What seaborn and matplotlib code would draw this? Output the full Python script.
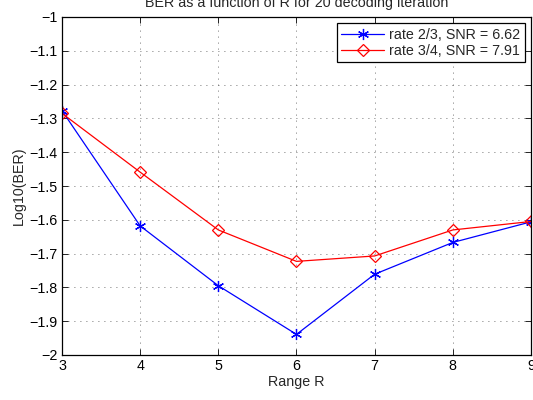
import numpy as np
import pandas as pd
import matplotlib
matplotlib.use("Agg")
import matplotlib.pyplot as plt
import seaborn as sns

# values
range_r = [3, 4, 5, 6, 7, 8, 9]
ber_23 = [-1.277, -1.618, -1.795, -1.939, -1.761, -1.667, -1.606]
ber_34 = [-1.285, -1.459, -1.630, -1.723, -1.707, -1.630, -1.605]
labels = ["rate 2/3, SNR = 6.62", "rate 3/4, SNR = 7.91"]

df_23 = pd.DataFrame({"R": range_r, "BER": ber_23})
df_34 = pd.DataFrame({"R": range_r, "BER": ber_34})

sns.set_style("ticks")
plt.rcParams['font.family'] = ['Liberation Sans', 'DejaVu Sans']
plt.rcParams['font.size'] = 10.3
plt.rcParams['xtick.direction'] = 'in'
plt.rcParams['ytick.direction'] = 'in'

fs = 10.3

fig = plt.figure(figsize=(5.33, 4), dpi=100)
ax = fig.add_axes([0.1163, 0.1125, 0.8799, 0.845])

# matlab style asterisk marker
sns.lineplot(data=df_23, x="R", y="BER", ax=ax, color="blue", lw=0.9,
             marker=(6, 2, 0), markersize=8, markeredgewidth=0.9,
             markeredgecolor="blue", label=labels[0])
sns.lineplot(data=df_34, x="R", y="BER", ax=ax, color="red", lw=0.9,
             marker="D", markersize=6.5, markeredgewidth=0.9,
             markerfacecolor="none", markeredgecolor="red", label=labels[1])

ax.set_xlim(3, 9)
ax.set_ylim(-2, -1)
ax.set_xticks(range(3, 10))
ax.set_yticks(np.round(np.arange(-2, -0.95, 0.1), 1))
ax.set_yticklabels(["\u22122", "\u22121.9", "\u22121.8", "\u22121.7", "\u22121.6", "\u22121.5",
                    "\u22121.4", "\u22121.3", "\u22121.2", "\u22121.1", "\u22121"])
ax.tick_params(axis="both", which="both", top=True, right=True, length=4,
               width=0.6, labelsize=fs, colors="black", pad=3)
ax.grid(True, linestyle=(0, (1, 6.2)), color="#444444", linewidth=0.6)
for sp in ax.spines.values():
    sp.set_visible(True)
    sp.set_linewidth(0.9)
    sp.set_color("black")

ax.set_xlabel("Range R", fontsize=fs, labelpad=1)
ax.set_ylabel("Log10(BER)", fontsize=fs, labelpad=3)
ax.set_title("BER as a function of R for 20 decoding iteration", fontsize=fs, pad=7)

leg = ax.legend(loc="upper right", fontsize=fs, frameon=True, fancybox=False,
                edgecolor="black", framealpha=1, borderaxespad=0.45,
                handlelength=3.0, handletextpad=0.35, labelspacing=0.15, borderpad=0.3)
leg.get_frame().set_linewidth(0.9)

fig.savefig("out.png", dpi=100)
